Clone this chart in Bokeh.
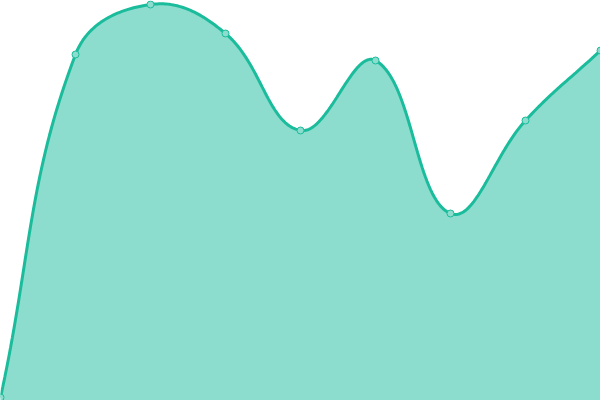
import numpy as np
from bokeh.plotting import figure
from bokeh.models import Range1d
from bokeh.embed import file_html
from bokeh.resources import INLINE

# data
categories = list(range(9))
values = [3, 346, 396, 367, 270, 340, 187, 280, 350]

LINE = "#1abc9c"
FILL = "#8cddce"
W, H = 600, 400
Y_MAX = 400

# Chart.js style spline (tension 0.4) computed in pixel space
def px(i, v):
    return np.array([i * W / (len(categories) - 1), v * H / Y_MAX])

pts = [px(i, v) for i, v in zip(categories, values)]
n = len(pts)
tension = 0.4
cps = []
for i in range(n):
    prev = pts[i - 1] if i > 0 else pts[i]
    cur = pts[i]
    nxt = pts[i + 1] if i < n - 1 else pts[i]
    d01 = np.linalg.norm(cur - prev)
    d12 = np.linalg.norm(nxt - cur)
    tot = d01 + d12
    s01 = d01 / tot if tot else 0
    s12 = d12 / tot if tot else 0
    fa, fb = tension * s01, tension * s12
    c1 = cur - fa * (nxt - prev)
    c2 = cur + fb * (nxt - prev)
    c1[1] = min(max(c1[1], 0), H)
    c2[1] = min(max(c2[1], 0), H)
    cps.append((c1, c2))

xs, ys = [], []
t = np.linspace(0, 1, 40)
for i in range(n - 1):
    P0, P1, P2, P3 = pts[i], cps[i][1], cps[i + 1][0], pts[i + 1]
    seg = ((1 - t) ** 3)[:, None] * P0 + (3 * (1 - t) ** 2 * t)[:, None] * P1 \
        + (3 * (1 - t) * t ** 2)[:, None] * P2 + (t ** 3)[:, None] * P3
    if i > 0:
        seg = seg[1:]
    xs.extend(seg[:, 0] * (len(categories) - 1) / W)
    ys.extend(seg[:, 1] * Y_MAX / H)

p = figure(width=W, height=H, x_range=Range1d(0, len(categories) - 1),
           y_range=Range1d(0, Y_MAX), min_border=0, toolbar_location=None,
           output_backend="svg")
p.axis.visible = False
p.grid.visible = False
p.outline_line_color = None
p.background_fill_color = "white"
p.border_fill_color = "white"

p.patch([xs[0]] + xs + [xs[-1]], [0] + ys + [0], fill_color=FILL, line_color=None)
p.line(xs, ys, line_color=LINE, line_width=3)
p.scatter(categories, values, size=7, fill_color=FILL, line_color=LINE, line_width=1)

html = file_html(p, INLINE)
html = html.replace("<head>", "<head><style>html,body{margin:0;padding:0;}</style>", 1)
open("out.html", "w").write(html)
